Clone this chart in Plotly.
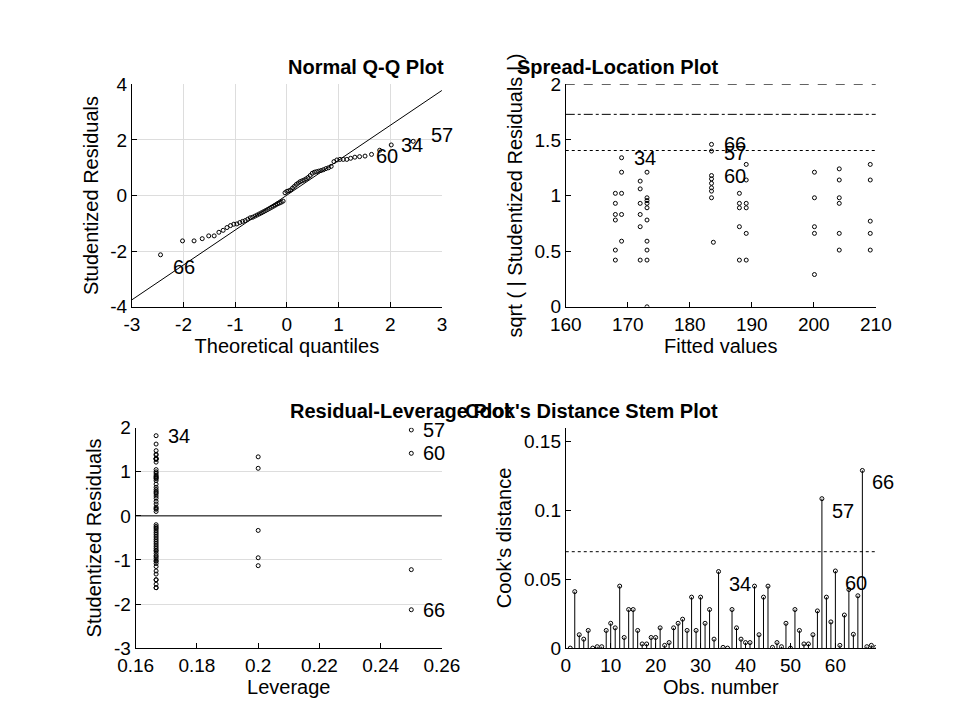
import plotly.graph_objects as go
from statistics import NormalDist

# ---- data ----
resid_sorted = [-2.13, -1.63, -1.63, -1.55, -1.45, -1.45, -1.32, -1.25, -1.15, -1.08,
                -1.03, -1.02, -0.97, -0.93, -0.90, -0.85, -0.80, -0.78, -0.74, -0.70,
                -0.66, -0.62, -0.58, -0.54, -0.50, -0.46, -0.42, -0.38, -0.34, -0.30,
                -0.27, -0.24, -0.20, 0.10, 0.15, 0.17, 0.20, 0.27, 0.33, 0.40,
                0.45, 0.50, 0.53, 0.56, 0.60, 0.65, 0.72, 0.80, 0.84, 0.86,
                0.88, 0.90, 0.93, 0.97, 1.00, 1.05, 1.22, 1.28, 1.30, 1.30,
                1.30, 1.34, 1.38, 1.40, 1.42, 1.48, 1.63, 1.82, 1.95]
qq_line_x = [-3, 3]
qq_line_y = [-3.75, 3.78]
qq_xticks = [-3, -2, -1, 0, 1, 2, 3]
qq_yticks = [-4, -2, 0, 2, 4]

sl_fitted = [168.0]*6 + [169.0]*5 + [172.0]*6 + [173.1]*10 + [183.5]*8 + [183.8] + \
            [188.0]*5 + [189.1]*6 + [200.1]*5 + [204.1]*6 + [209.1]*5
sl_values = [1.02, 0.93, 0.83, 0.78, 0.51, 0.42,
             1.34, 1.21, 1.02, 0.83, 0.59,
             1.13, 1.06, 0.93, 0.83, 0.72, 0.42,
             1.21, 0.98, 0.955, 0.93, 0.89, 0.78, 0.59, 0.51, 0.42, 0.0,
             1.46, 1.40, 1.18, 1.15, 1.11, 1.07, 1.04, 0.98,
             0.58,
             1.02, 0.93, 0.89, 0.72, 0.42,
             1.28, 1.14, 0.93, 0.89, 0.66, 0.42,
             1.21, 0.98, 0.72, 0.66, 0.29,
             1.24, 1.14, 0.98, 0.93, 0.66, 0.51,
             1.28, 1.14, 0.77, 0.66, 0.51]
sl_hlines = [2.0, 1.73, 1.405]
sl_labels = [("66", 183.5, 1.46), ("57", 183.5, 1.38), ("60", 183.5, 1.18), ("34", 169.0, 1.34)]

lev_high = [1.95, 1.42, -1.22, -2.13]
lev_mid = [1.34, 1.08, -0.33, -0.95, -1.13]
lev_labels = [("57", 0.25, 1.95), ("60", 0.25, 1.42), ("66", 0.25, -2.13), ("34", 1/6, 1.82)]
lev_yticks = [-3, -2, -1, 0, 1, 2]

cook = [0, 0.041, 0.0097, 0.0065, 0.0128, 0, 0.001, 0.001, 0.0128, 0.018,
        0.0147, 0.045, 0.0077, 0.028, 0.028, 0.0128, 0.003, 0.003, 0.0077, 0.0077,
        0.0147, 0.002, 0.004, 0.0147, 0.018, 0.021, 0.0128, 0.037, 0.0128, 0.037,
        0.018, 0.028, 0.0065, 0.0556, 0.0005, 0, 0.028, 0.0147, 0.0065, 0.004,
        0.004, 0.045, 0.0097, 0.037, 0.045, 0.0005, 0.004, 0.001, 0.018, 0,
        0.028, 0.0128, 0.003, 0.003, 0.0097, 0.027, 0.1085, 0.037, 0.019, 0.056,
        0.002, 0.024, 0.0425, 0.010, 0.038, 0.129, 0.001, 0.002, 0.0005]
cook_threshold = 0.070
cook_labels = ["34", "57", "60", "66"]

# ---- figure ----
n = len(resid_sorted)
nd = NormalDist()
theo = [nd.inv_cdf((i + 0.5) / n) for i in range(n)]
mk = dict(symbol="circle-open", size=4, color="black", line=dict(width=1))
fig = go.Figure()

fig.add_trace(go.Scatter(x=qq_line_x, y=qq_line_y, mode="lines", line=dict(color="black", width=1), xaxis="x", yaxis="y"))
fig.add_trace(go.Scatter(x=theo, y=resid_sorted, mode="markers", marker=mk, xaxis="x", yaxis="y"))
qq_lab = [("66", 0, 10, -12), ("60", n - 3, -6, -6), ("34", n - 2, 8, 0), ("57", n - 1, 16, 6)]
for t, i, xs, ys in qq_lab:
    fig.add_annotation(x=theo[i], y=resid_sorted[i], text=t, xref="x", yref="y", showarrow=False,
                       xanchor="left", xshift=xs, yshift=ys)

for v, d in zip(sl_hlines, ["dash", "dashdot", "dot"]):
    fig.add_trace(go.Scatter(x=[160, 210], y=[v, v], mode="lines", line=dict(color="black", width=1, dash=d), xaxis="x2", yaxis="y2"))
fig.add_trace(go.Scatter(x=sl_fitted, y=sl_values, mode="markers", marker=mk, xaxis="x2", yaxis="y2"))
for t, x, y in sl_labels:
    fig.add_annotation(x=x, y=y, text=t, xref="x2", yref="y2", showarrow=False, xanchor="left", xshift=10)

low = [r for r in resid_sorted if r not in lev_high + lev_mid]
lev_x = [1/6]*len(low) + [0.2]*len(lev_mid) + [0.25]*len(lev_high)
lev_y = low + lev_mid + lev_high
fig.add_trace(go.Scatter(x=[0.16, 0.26], y=[0, 0], mode="lines", line=dict(color="black", width=1), xaxis="x3", yaxis="y3"))
fig.add_trace(go.Scatter(x=lev_x, y=lev_y, mode="markers", marker=mk, xaxis="x3", yaxis="y3"))
for t, x, y in lev_labels:
    fig.add_annotation(x=x, y=y, text=t, xref="x3", yref="y3", showarrow=False, xanchor="left", xshift=10)

obs = list(range(1, len(cook) + 1))
sx, sy = [], []
for o, c in zip(obs, cook):
    sx += [o, o, None]; sy += [0, c, None]
fig.add_trace(go.Scatter(x=sx, y=sy, mode="lines", line=dict(color="black", width=1), xaxis="x4", yaxis="y4"))
fig.add_trace(go.Scatter(x=obs, y=cook, mode="markers", marker=mk, xaxis="x4", yaxis="y4"))
fig.add_trace(go.Scatter(x=[0, 69], y=[cook_threshold]*2, mode="lines", line=dict(color="black", width=1, dash="dot"), xaxis="x4", yaxis="y4"))
for t in cook_labels:
    o = int(t)
    fig.add_annotation(x=o, y=cook[o - 1], text=t, xref="x4", yref="y4", showarrow=False, xanchor="left", xshift=8, yshift=-12)

def fmt(v):
    return ("%g" % v).replace("\u2212", "-")

tf = dict(size=20, color="black")
ax = dict(showline=True, linecolor="black", linewidth=1, ticks="inside", ticklen=5, tickcolor="black",
          tickfont=dict(size=19, color="black"), zeroline=False, showgrid=False, mirror=False, automargin=False)
fig.update_layout(
    width=960, height=720, showlegend=False, plot_bgcolor="white", paper_bgcolor="white",
    margin=dict(l=0, r=0, t=0, b=0),
    font=dict(family="Liberation Sans, Arial, sans-serif", size=20, color="black"),
    xaxis=dict(ax, domain=[0.129, 0.452], range=[-3, 3], tickvals=qq_xticks, ticktext=[fmt(v) for v in qq_xticks],
               showgrid=True, gridcolor="#dddddd",
               title=dict(text="Theoretical quantiles", font=tf, standoff=2), anchor="y"),
    yaxis=dict(ax, domain=[0.585, 0.894], range=[-4, 4], tickvals=qq_yticks, ticktext=[fmt(v) for v in qq_yticks],
               showgrid=True, gridcolor="#dddddd",
               title=dict(text="Studentized Residuals", font=tf, standoff=6), anchor="x"),
    xaxis2=dict(ax, domain=[0.581, 0.904], range=[160, 210], dtick=10,
                title=dict(text="Fitted values", font=tf, standoff=2), anchor="y2"),
    yaxis2=dict(ax, domain=[0.585, 0.894], range=[0, 2], dtick=0.5,
                title=dict(text="sqrt ( | Studentized Residuals | )", font=tf, standoff=6), anchor="x2"),
    xaxis3=dict(ax, domain=[0.133, 0.452], range=[0.16, 0.26], dtick=0.02,
                title=dict(text="Leverage", font=tf, standoff=2), anchor="y3"),
    yaxis3=dict(ax, domain=[0.111, 0.417], range=[-3, 2], tickvals=lev_yticks, ticktext=[fmt(v) for v in lev_yticks],
                showgrid=True, gridcolor="#dddddd",
                title=dict(text="Studentized Residuals", font=tf, standoff=6), anchor="x3"),
    xaxis4=dict(ax, domain=[0.581, 0.904], range=[0, 69], dtick=10,
                title=dict(text="Obs. number", font=tf, standoff=2), anchor="y4"),
    yaxis4=dict(ax, domain=[0.111, 0.417], range=[0, 0.16], tickvals=[0, 0.05, 0.1, 0.15],
                ticktext=["0", "0.05", "0.1", "0.15"],
                title=dict(text="Cook's distance", font=tf, standoff=6), anchor="x4"),
)
titles = [("Normal Q-Q Plot", 0.29, 0.894), ("Spread-Location Plot", 0.742, 0.894),
          ("Residual-Leverage Plot", 0.292, 0.417), ("Cook's Distance Stem Plot", 0.742, 0.417)]
for t, x, y in titles:
    fig.add_annotation(x=x, y=y, xref="paper", yref="paper", text="<b>%s</b>" % t, showarrow=False,
                       yanchor="bottom", yshift=4, font=dict(size=20))
fig.write_html("out.html")
